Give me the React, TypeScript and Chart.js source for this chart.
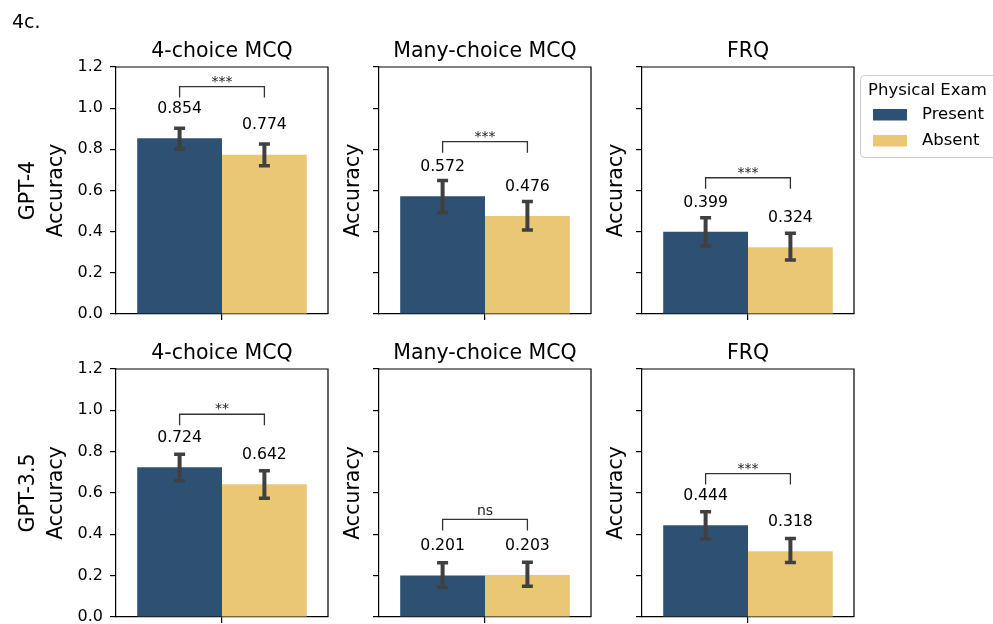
import React, { useEffect, useRef } from 'react';
import { Chart, registerables } from 'chart.js';

Chart.register(...registerables);

// ---------------- data ----------------
const figureLabel = '4c.';
const models = ['GPT-4', 'GPT-3.5'];
const questionTypes = ['4-choice MCQ', 'Many-choice MCQ', 'FRQ'];
const seriesLabels = ['Present', 'Absent'];
const legendTitle = 'Physical Exam';
const yAxisLabel = 'Accuracy';
const yTicks = [0, 0.2, 0.4, 0.6, 0.8, 1.0, 1.2];

// [model][questionType]
const presentAccuracy = [
  [0.854, 0.572, 0.399],
  [0.724, 0.201, 0.444],
];
const absentAccuracy = [
  [0.774, 0.476, 0.324],
  [0.642, 0.203, 0.318],
];
// confidence intervals [low, high]
const presentCI = [
  [[0.802, 0.902], [0.492, 0.648], [0.33, 0.468]],
  [[0.659, 0.787], [0.143, 0.262], [0.377, 0.509]],
];
const absentCI = [
  [[0.72, 0.826], [0.408, 0.546], [0.262, 0.392]],
  [[0.574, 0.708], [0.149, 0.265], [0.264, 0.38]],
];
const significance = [
  ['***', '***', '***'],
  ['**', 'ns', '***'],
];
const bracketLevel = [
  [1.105, 0.837, 0.662],
  [0.981, 0.472, 0.694],
];

// ---------------- style ----------------
const FONT = "'DejaVu Sans', sans-serif";
const BLUE = '#2E5072';
const YELLOW = '#EAC775';
const ERR = '#404040';
const W = 993;
const H = 624;
const CH = 660; // canvas height (taller than page, clipped)
const COL_LEFT = [116, 379, 642];
const PLOT_W = 212;
const ROW_TOP = [67, 369];
const ROW_BOTTOM = [314, 617];
const LABEL_OFFSET = 0.143;

const panelPlugin = {
  id: 'panel',
  afterDraw(chart: any, _args: any, opts: any) {
    const { ctx, chartArea } = chart;
    const r = opts.row;
    const c = opts.col;
    const yScale = chart.scales.y;
    ctx.save();

    // top & right spines
    ctx.strokeStyle = '#000';
    ctx.lineWidth = 1.2;
    ctx.beginPath();
    ctx.moveTo(chartArea.left, chartArea.top);
    ctx.lineTo(chartArea.right, chartArea.top);
    ctx.lineTo(chartArea.right, chartArea.bottom);
    ctx.stroke();

    // error bars + value labels
    const xs: number[] = [];
    chart.data.datasets.forEach((ds: any, i: number) => {
      const meta = chart.getDatasetMeta(i);
      const bar = meta.data[0];
      const x = bar.x;
      xs.push(x);
      const yLo = yScale.getPixelForValue(ds.ci[0]);
      const yHi = yScale.getPixelForValue(ds.ci[1]);
      ctx.strokeStyle = ERR;
      ctx.lineWidth = 4;
      ctx.lineCap = 'butt';
      ctx.beginPath();
      ctx.moveTo(x, yLo);
      ctx.lineTo(x, yHi);
      ctx.stroke();
      ctx.lineWidth = 3.5;
      ctx.beginPath();
      ctx.moveTo(x - 5.5, yLo);
      ctx.lineTo(x + 5.5, yLo);
      ctx.moveTo(x - 5.5, yHi);
      ctx.lineTo(x + 5.5, yHi);
      ctx.stroke();

      const v = ds.data[0];
      ctx.fillStyle = '#000';
      ctx.font = `15.7px ${FONT}`;
      ctx.textAlign = 'center';
      ctx.textBaseline = 'middle';
      ctx.fillText(v.toFixed(3), x, yScale.getPixelForValue(v + LABEL_OFFSET));
    });

    // significance bracket
    const yb = yScale.getPixelForValue(bracketLevel[r][c]);
    ctx.strokeStyle = '#333';
    ctx.lineWidth = 1.3;
    ctx.beginPath();
    ctx.moveTo(xs[0], yb + 11);
    ctx.lineTo(xs[0], yb);
    ctx.lineTo(xs[1], yb);
    ctx.lineTo(xs[1], yb + 11);
    ctx.stroke();
    ctx.fillStyle = '#222';
    ctx.font = `14px ${FONT}`;
    ctx.textAlign = 'center';
    ctx.textBaseline = 'alphabetic';
    const sig = significance[r][c];
    ctx.fillText(sig, (xs[0] + xs[1]) / 2, sig === 'ns' ? yb - 4 : yb - 1);

    // panel title
    ctx.fillStyle = '#000';
    ctx.font = `20.5px ${FONT}`;
    ctx.textAlign = 'center';
    ctx.textBaseline = 'alphabetic';
    ctx.fillText(questionTypes[c], (chartArea.left + chartArea.right) / 2, chartArea.top - 10);

    // figure label
    if (r === 0 && c === 0) {
      ctx.font = `19px ${FONT}`;
      ctx.textAlign = 'left';
      ctx.fillText(figureLabel, 12, 28);
    }

    // legend
    if (r === 0 && c === 2) {
      const lx = 860, ly = 75, lw = 150, lh = 82;
      ctx.fillStyle = 'rgba(255,255,255,0.8)';
      ctx.strokeStyle = '#cccccc';
      ctx.lineWidth = 1;
      ctx.beginPath();
      (ctx as any).roundRect(lx + 0.5, ly + 0.5, lw, lh, 4);
      ctx.fill();
      ctx.stroke();
      ctx.fillStyle = '#000';
      ctx.font = `16.5px ${FONT}`;
      ctx.textAlign = 'left';
      ctx.textBaseline = 'alphabetic';
      ctx.fillText(legendTitle, 868, 95);
      chart.data.datasets.forEach((ds: any, i: number) => {
        const sy = 109 + i * 26;
        ctx.fillStyle = ds.backgroundColor;
        ctx.fillRect(873, sy, 34, 11.5);
        ctx.fillStyle = '#000';
        ctx.textBaseline = 'middle';
        ctx.fillText(ds.label, 922, sy + 6);
      });
    }
    ctx.restore();
  },
};

function makeConfig(r: number, c: number): any {
  const pl = COL_LEFT[c];
  const pr = pl + PLOT_W;
  const pt = ROW_TOP[r];
  const pb = ROW_BOTTOM[r];
  const yw = c === 0 ? 101 : 39;
  const xh = 7;
  const axisLine = { display: true, color: '#000', width: 1.2 };
  return {
    type: 'bar',
    data: {
      labels: [''],
      datasets: [
        {
          label: seriesLabels[0],
          data: [presentAccuracy[r][c]],
          backgroundColor: BLUE,
          borderWidth: 0,
          ci: presentCI[r][c],
        },
        {
          label: seriesLabels[1],
          data: [absentAccuracy[r][c]],
          backgroundColor: YELLOW,
          borderWidth: 0,
          ci: absentCI[r][c],
        },
      ],
    },
    options: {
      responsive: false,
      animation: false,
      events: [],
      layout: {
        padding: { left: pl - yw, right: W - pr, top: pt, bottom: CH - pb - xh },
      },
      datasets: { bar: { categoryPercentage: 0.8, barPercentage: 1.0 } },
      plugins: {
        legend: { display: false },
        tooltip: { enabled: false },
        title: { display: false },
        panel: { row: r, col: c },
      },
      scales: {
        x: {
          type: 'category',
          offset: true,
          grid: { display: true, drawOnChartArea: false, offset: false, tickLength: 6, color: '#000', lineWidth: 1.2 },
          border: axisLine,
          ticks: { callback: () => '', padding: 0 },
          afterFit: (s: any) => {
            s.height = xh;
          },
        },
        y: {
          min: 0,
          max: 1.2,
          afterBuildTicks: (s: any) => {
            s.ticks = yTicks.map((v) => ({ value: v }));
          },
          grid: { display: true, drawOnChartArea: false, tickLength: 6, color: '#000', lineWidth: 1.2 },
          border: axisLine,
          ticks: {
            callback: (v: any) => (c === 0 ? Number(v).toFixed(1) : ''),
            font: { family: FONT, size: 16 },
            color: '#000',
            padding: 7,
          },
          title: {
            display: true,
            text: c === 0 ? [models[r], yAxisLabel] : yAxisLabel,
            font: { family: FONT, size: 20.5, lineHeight: 27.5 / 20.5 },
            color: '#000',
            padding: 0,
          },
          afterFit: (s: any) => {
            s.width = yw;
          },
        },
      },
    },
    plugins: [panelPlugin],
  };
}

const panels: [number, number][] = [];
models.forEach((_m, r) => questionTypes.forEach((_q, c) => panels.push([r, c])));

function Panel({ r, c }: { r: number; c: number }) {
  const ref = useRef<HTMLCanvasElement | null>(null);
  useEffect(() => {
    if (!ref.current) return;
    const chart = new Chart(ref.current, makeConfig(r, c));
    return () => chart.destroy();
  }, [r, c]);
  return (
    <canvas
      ref={ref}
      width={W}
      height={CH}
      style={{ position: 'absolute', left: 0, top: 0, width: W, height: CH }}
    />
  );
}

export default function App() {
  return (
    <div
      style={{
        position: 'fixed',
        left: 0,
        top: 0,
        width: W,
        height: H,
        overflow: 'hidden',
        background: '#fff',
      }}
    >
      {panels.map(([r, c]) => (
        <Panel key={`${r}-${c}`} r={r} c={c} />
      ))}
    </div>
  );
}
